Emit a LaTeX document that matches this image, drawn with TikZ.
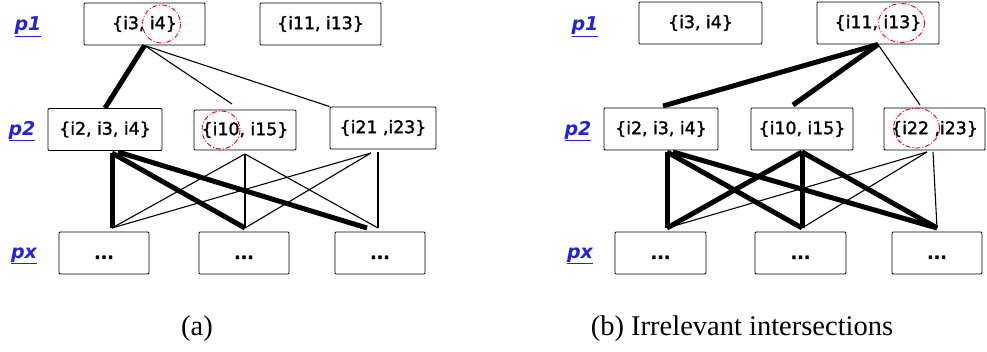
\documentclass[tikz,border=0pt]{standalone}
\usepackage{fontspec}
\setmainfont{Liberation Serif}
\newfontfamily\setfont{DejaVu Sans}[FakeBold=1.6]
\newfontfamily\lvlfont{DejaVu Sans}
\definecolor{lvlblue}{RGB}{34,34,221}
\newcommand\more{\raisebox{-6pt}[0pt][0pt]{\textbf{...}}}
\tikzset{
 set/.style={draw,line width=0.9pt,rounded corners=1pt,inner sep=0pt,minimum height=42pt,font=\setfont\fontsize{17.3}{19}\selectfont},
 lvl/.style={text=lvlblue,font=\lvlfont\bfseries\itshape\fontsize{19}{21}\selectfont},
 strong/.style={line width=5pt},
 weak/.style={line width=1.1pt},
 hit/.style={draw=red,line width=0.9pt,dash pattern=on 5pt off 2pt on 1pt off 2pt},
 subcap/.style={font=\fontsize{28.5}{32}\selectfont}
}
\begin{document}
\begin{tikzpicture}[x=1pt,y=-1pt]
 \useasboundingbox (0,0) rectangle (987,352);
 % (a)
 \node[lvl] (la1) at (28,27) {\underline{p1}};
 \node[lvl] (la2) at (22,131) {\underline{p2}};
 \node[lvl] (lax) at (24,256) {\underline{px}};
 \node[set,minimum width=121pt] (a11) at (144.5,24) {\{i3, i4\}};
 \node[set,minimum width=121pt] (a12) at (320.5,24) {\{i11, i13\}};
 \node[set,minimum width=114pt] (a21) at (105,129.5) {\{i2, i3, i4\}};
 \node[set,minimum width=102pt,minimum height=40pt] (a22) at (245,130) {\{i10, i15\}};
 \node[set,minimum width=106pt] (a23) at (383,128) {\{i21 ,i23\}};
 \node[set,minimum width=90pt] (ax1) at (104,253) {\more};
 \node[set,minimum width=90pt] (ax2) at (244,253) {\more};
 \node[set,minimum width=90pt] (ax3) at (380,253) {\more};
 \draw[hit] (161.5,24) circle (19);
 \draw[hit] (221,130) circle (19);
 \coordinate (a22t) at (232,104);
 \coordinate (a21b) at (112,153);
 \coordinate (a21c) at (118,152);
 \coordinate (a22b) at (245,154);
 \coordinate (a23b) at (371,153);
 \coordinate (a23c) at (378,152);
 \coordinate (ax1t) at (112,228);
 \coordinate (ax2t) at (245,228);
 \coordinate (ax3t) at (367,228);
 \coordinate (ax3u) at (378,228);
 \draw[strong] (a11.south) -- (a21.north);
 \draw[weak] (a11.south) -- (a22t);
 \draw[weak] (a11.south) -- (a23.north west);
 \draw[strong] (a21b) -- (ax1t);
 \draw[strong] (a21b) -- (ax2t);
 \draw[strong] (a21c) -- (ax3t);
 \draw[weak] (a22b) -- (ax1t);
 \draw[weak] (a22b) -- (ax2t);
 \draw[weak] (a22b) -- (ax3u);
 \draw[weak] (a23b) -- (ax1t);
 \draw[weak] (a23b) -- (ax2t);
 \draw[weak] (a23c) -- (ax3u);
 \node[subcap] (capa) at (197,329) {(a)};
 % (b)
 \node[lvl] (lb1) at (585,27) {\underline{p1}};
 \node[lvl] (lb2) at (578,131) {\underline{p2}};
 \node[lvl] (lbx) at (580,256) {\underline{px}};
 \node[set,minimum width=123pt] (b11) at (700.5,23) {\{i3, i4\}};
 \node[set,minimum width=122pt] (b12) at (878,23) {\{i11, i13\}};
 \node[set,minimum width=114pt] (b21) at (661,129) {\{i2, i3, i4\}};
 \node[set,minimum width=102pt] (b22) at (802,129) {\{i10, i15\}};
 \node[set,minimum width=101pt] (b23) at (934.5,129) {\{i22 ,i23\}};
 \node[set,minimum width=91pt] (bx1) at (660.5,253) {\more};
 \node[set,minimum width=91pt] (bx2) at (800.5,253) {\more};
 \node[set,minimum width=90pt] (bx3) at (937,253) {\more};
 \draw[hit] (901.5,23) ellipse (23 and 19.5);
 \draw[hit] (916.5,128) ellipse (23 and 20);
 \coordinate (b21t) at (663,106);
 \coordinate (b22t) at (793,105);
 \coordinate (b23t) at (920,105);
 \coordinate (b21b) at (667,152);
 \coordinate (b21c) at (673,152);
 \coordinate (b22b) at (802,152);
 \coordinate (b23b) at (927,152);
 \coordinate (b23c) at (933,152);
 \coordinate (bx1t) at (667,228);
 \coordinate (bx2t) at (802,228);
 \coordinate (bx3t) at (937,228);
 \draw[strong] (b12.south) -- (b21t);
 \draw[strong] (b12.south) -- (b22t);
 \draw[weak] (b12.south) -- (b23t);
 \draw[strong] (b21b) -- (bx1t);
 \draw[strong] (b21b) -- (bx2t);
 \draw[strong] (b21c) -- (bx3t);
 \draw[strong] (b22b) -- (bx1t);
 \draw[strong] (b22b) -- (bx2t);
 \draw[strong] (b22b) -- (bx3t);
 \draw[weak] (b23b) -- (bx1t);
 \draw[weak] (b23b) -- (bx2t);
 \draw[weak] (b23c) -- (bx3t);
 \node[subcap] (capb) at (742,329) {(b) Irrelevant intersections};
\end{tikzpicture}
\end{document}
